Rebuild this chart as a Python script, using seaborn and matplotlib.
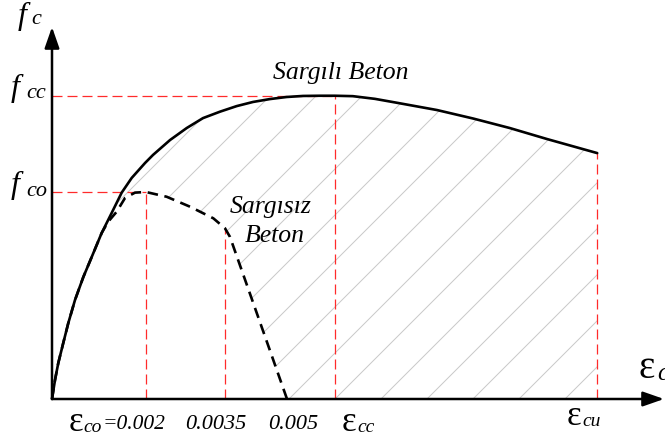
import numpy as np
import pandas as pd
import seaborn as sns
import matplotlib.pyplot as plt

# Sargili (confined) beton egrisi - okunan noktalar (birim sekil degistirme, f/fco)
strain_conf = [0, 0.000064, 0.000134, 0.00024, 0.000347, 0.000489, 0.000666, 0.000845,
               0.001057, 0.00127, 0.001483, 0.001696, 0.001979, 0.002149, 0.002511,
               0.002866, 0.003213, 0.003574, 0.00393, 0.004277, 0.004638, 0.004994,
               0.00534, 0.005702, 0.00602, 0.0064, 0.00687, 0.00734, 0.00819, 0.00896,
               0.00974, 0.01053, 0.0116]
stress_conf = [0, 0.092, 0.174, 0.271, 0.367, 0.478, 0.589, 0.686, 0.802, 0.899, 0.997,
               1.068, 1.140, 1.179, 1.251, 1.309, 1.357, 1.388, 1.415, 1.435, 1.449,
               1.459, 1.464, 1.465, 1.465, 1.463, 1.450, 1.431, 1.396, 1.355, 1.309,
               1.256, 1.188]

# Sargisiz (unconfined) beton egrisi
strain_unconf = [0, 0.000064, 0.000134, 0.00024, 0.000347, 0.000489, 0.000666, 0.000845,
                 0.001057, 0.00119, 0.001377, 0.001553, 0.001766, 0.0020, 0.00244,
                 0.002936, 0.003432, 0.00368, 0.003787, 0.005]
stress_unconf = [0, 0.092, 0.174, 0.271, 0.367, 0.478, 0.589, 0.686, 0.802, 0.855, 0.905,
                 0.971, 0.997, 1.0, 0.977, 0.929, 0.873, 0.825, 0.783, 0]

# karakteristik noktalar
eps_co, eps_035, eps_05, eps_cc, eps_cu = 0.0020, 0.00368, 0.0050, 0.00602, 0.0116
f_co, f_cc, f_035, f_cu = 1.0, 1.465, 0.825, 1.188

W, H = 665, 441
sns.set_theme(style='white')
plt.rcParams['font.family'] = ['Liberation Serif', 'DejaVu Serif']

fig = plt.figure(figsize=(W / 100, H / 100), dpi=100)
ax = fig.add_axes([0, 0, 1, 1])
ax.set_xlim(-52 / 47000, 613 / 47000)
ax.set_ylim(-42 / 207, 399 / 207)
ax.axis('off')

red = '#ff2b2b'
dash_red = (0, (8, 4))
ax.hlines([f_cc, f_co], 0, [eps_cc, eps_co], colors=red, lw=0.9, linestyles=[dash_red], zorder=1)
ax.vlines([eps_co, eps_035, eps_cc, eps_cu], 0, [f_co, f_035, f_cc, f_cu],
          colors=red, lw=0.9, linestyles=[dash_red], zorder=1)

# taranmis alan: sargili ve sargisiz egriler arasi
xc, yc = np.array(strain_conf), np.array(stress_conf)
xu, yu = np.array(strain_unconf), np.array(stress_unconf)
k = xc >= 0.001057
j = xu >= 0.001057
poly_x = np.concatenate([xc[k], [eps_cu, eps_05], xu[j][::-1]])
poly_y = np.concatenate([yc[k], [0, 0], yu[j][::-1]])
region = ax.fill(poly_x, poly_y, facecolor='none', edgecolor='none')[0]
for b in np.arange(288 - 46 * 10, 665 + 46, 46):
    line, = ax.plot([(b - 500) / W, (b + 500) / W], [1 - 900 / H, 1 + 100 / H],
                    transform=ax.transAxes, color='#c8c8c8', lw=0.7, zorder=0.5)
    line.set_clip_path(region)

df_c = pd.DataFrame({'strain': strain_conf, 'stress': stress_conf})
df_u = pd.DataFrame({'strain': strain_unconf, 'stress': stress_unconf})
sns.lineplot(data=df_u, x='strain', y='stress', sort=False, color='black', lw=1.9,
             linestyle=(0, (4, 2.5)), ax=ax, zorder=2)
sns.lineplot(data=df_c, x='strain', y='stress', sort=False, color='black', lw=1.9,
             ax=ax, zorder=3)
ax.axis('off')

# eksen oklari
arrow = dict(arrowstyle='-|>,head_length=0.8,head_width=0.28', lw=1.8, color='black',
             mutation_scale=16, shrinkA=0, shrinkB=0)
ax.annotate('', xy=(0, 372 / 207), xytext=(0, 0), arrowprops=arrow, zorder=4)
ax.annotate('', xy=(612 / 47000, 0), xytext=(0, 0), arrowprops=arrow, zorder=4)


def put(xp, yp, s, size, ha='left', style='italic'):
    ax.text(xp / W, 1 - yp / H, s, transform=ax.transAxes, fontsize=size, ha=ha,
            va='baseline', fontstyle=style, color='black')


# y ekseni etiketleri
put(18, 24, 'f', 23)
put(31, 24, 'c', 16)
put(11, 96, 'f', 23)
put(26, 98, 'cc', 16)
put(11, 193, 'f', 23)
put(26, 196, 'co', 16)

# x ekseni etiketleri
put(69, 431, 'ε', 25, style='normal')
put(83, 432, 'co', 14)
put(103, 429, '=0.002', 15.5)
put(185, 429, '0.0035', 16)
put(268, 429, '0.005', 16)
put(342, 431, 'ε', 25, style='normal')
put(357, 432, 'cc', 14)
put(567, 425, 'ε', 25, style='normal')
put(582, 426, 'cu', 14)
put(639, 378, 'ε', 28, style='normal')
put(657, 380, 'c', 18)

put(341, 79, 'Sargılı Beton', 18.5, ha='center')
put(271, 213, 'Sargısız', 18.5, ha='center')
put(275, 242, 'Beton', 18.5, ha='center')

fig.savefig('out.png', dpi=100)
